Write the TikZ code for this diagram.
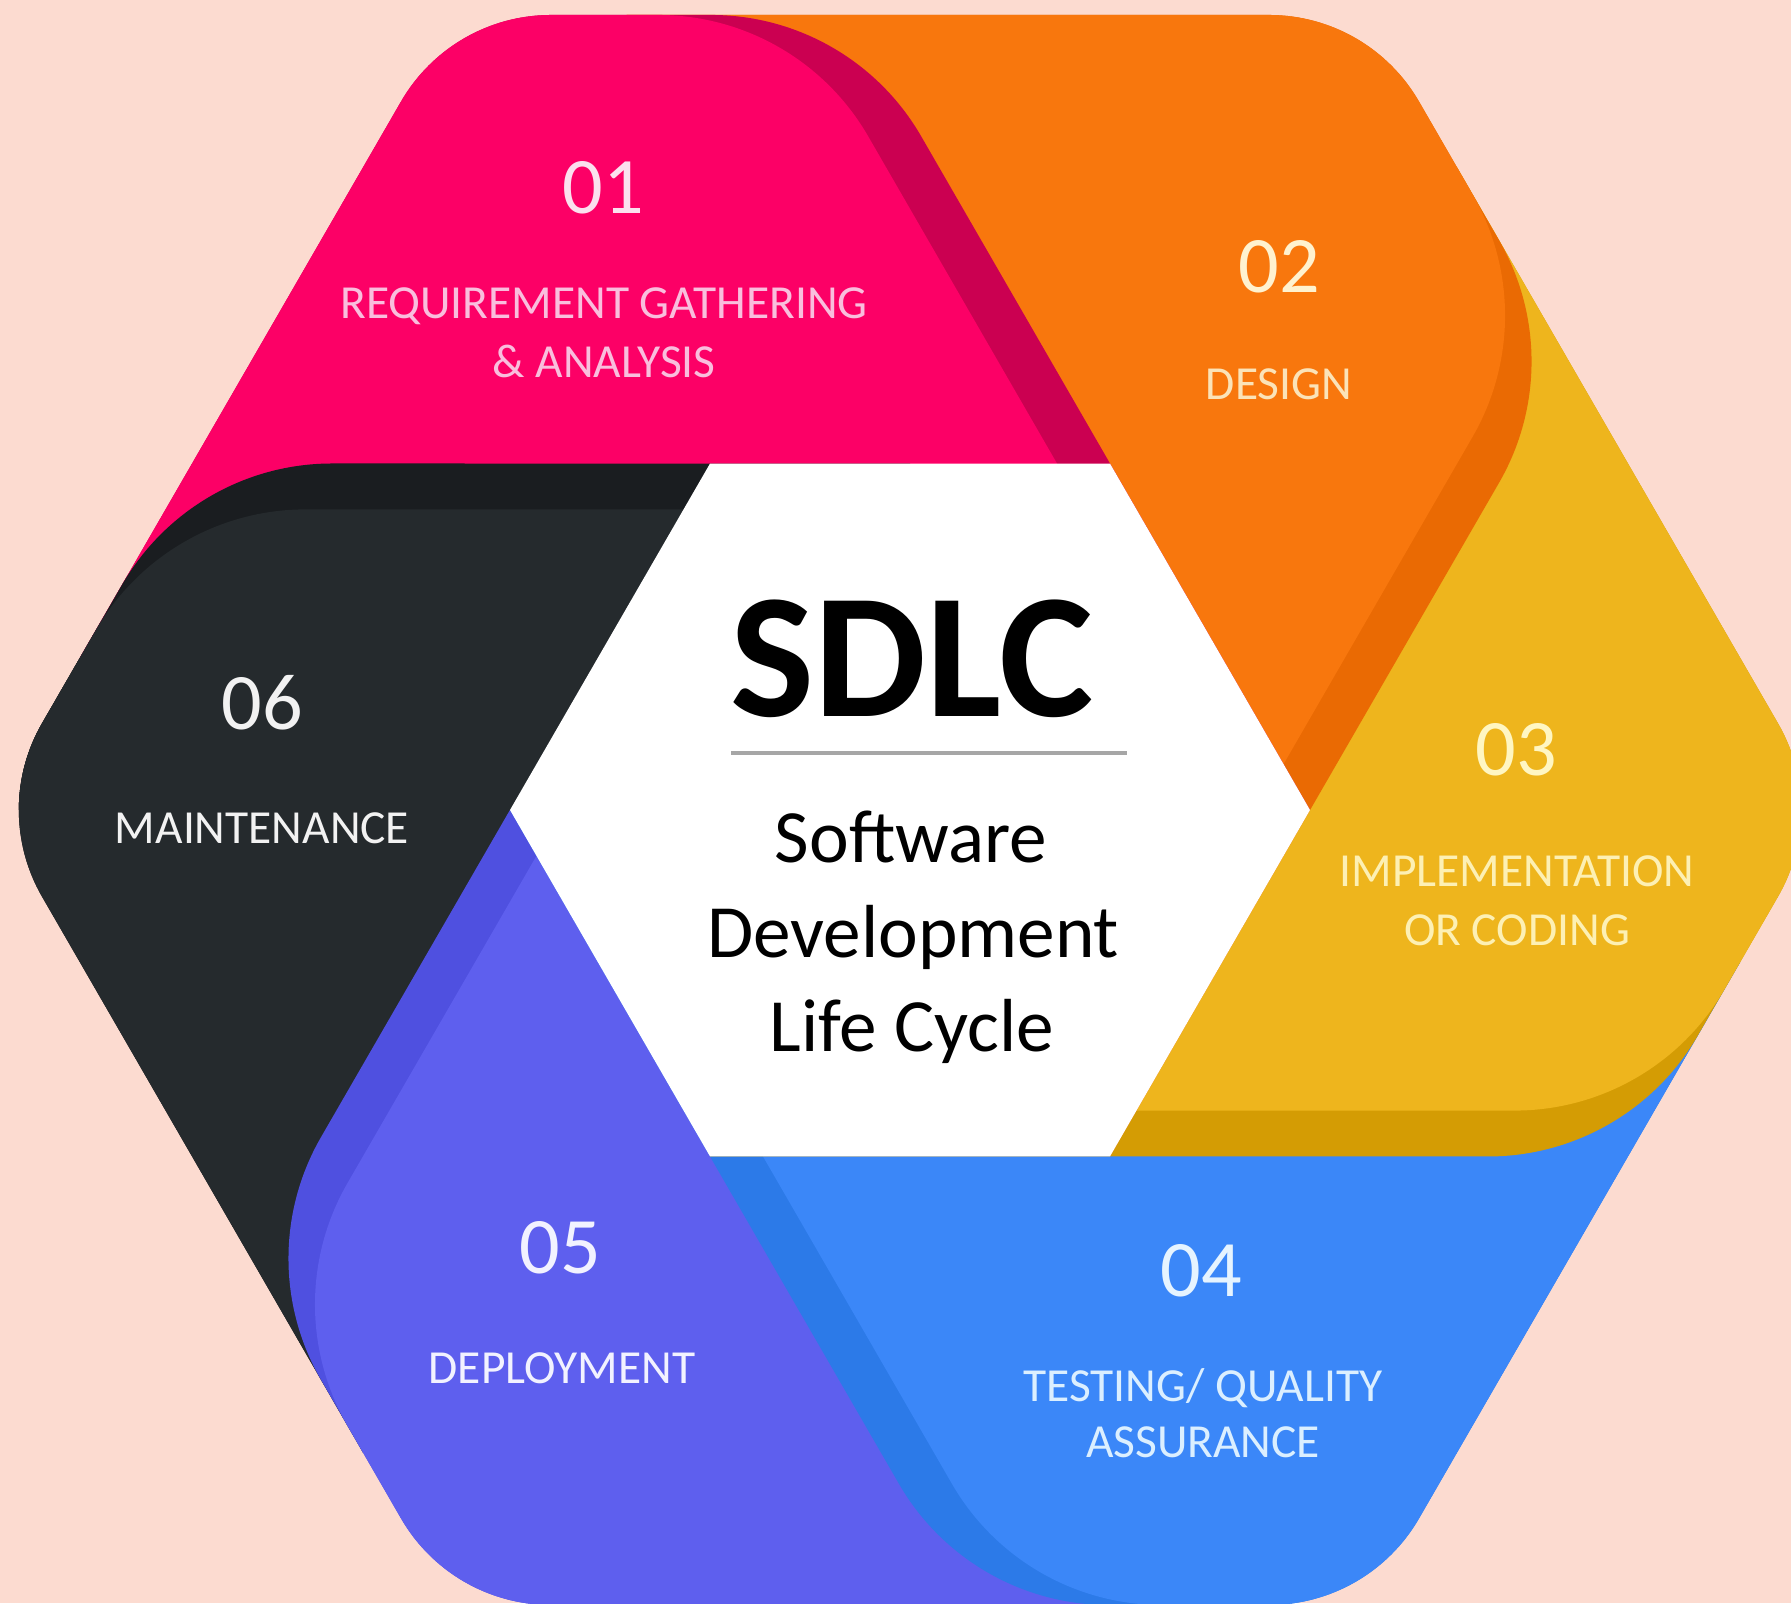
\documentclass[tikz,border=0pt]{standalone}
\usepackage{fontspec}
\setmainfont{Carlito}
\definecolor{bgc}{HTML}{FCDBD0}
\definecolor{pinkM}{HTML}{FC0066}
\definecolor{pinkD}{HTML}{CB0051}
\definecolor{orangeM}{HTML}{F8770D}
\definecolor{orangeD}{HTML}{EA6A03}
\definecolor{yellowM}{HTML}{EEB51D}
\definecolor{yellowD}{HTML}{D49C04}
\definecolor{blueM}{HTML}{3B87F8}
\definecolor{blueD}{HTML}{2C7AE8}
\definecolor{purpleM}{HTML}{5E5FEE}
\definecolor{purpleD}{HTML}{4F50E0}
\definecolor{blackM}{HTML}{252A2D}
\definecolor{blackD}{HTML}{1A1D20}
\definecolor{tPinkN}{HTML}{FBE0EE}
\definecolor{tPink}{HTML}{F9BEDD}
\definecolor{tOrangeN}{HTML}{FFF2CF}
\definecolor{tOrange}{HTML}{FBE3B8}
\definecolor{tYellowN}{HTML}{FFF6C2}
\definecolor{tYellow}{HTML}{FDF0B4}
\definecolor{tBlueN}{HTML}{E6F4FF}
\definecolor{tBlue}{HTML}{DBEFFF}
\definecolor{tPurple}{HTML}{F2F2FF}
\definecolor{tBlack}{HTML}{F2F2F2}
\definecolor{ruleGray}{HTML}{A6A6A6}
% one segment of the pinwheel, drawn in the frame of the top (pink) segment
\newcommand\sdlcseg[3]{%
  \begin{scope}[rotate=#1]
    \fill[#2] (4,0) -- (0.111,6.7376) arc[start angle=30,end angle=90,radius=2.4249]
      -- (-3.59,7.95) arc[start angle=90,end angle=150,radius=1.7321]
      -- (-8.302,1.52) -- cycle;
    \fill[#3] (3.47,0) -- (-0.419,6.7376) arc[start angle=30,end angle=90,radius=2.4249]
      -- (-3.59,7.95) arc[start angle=90,end angle=150,radius=1.7321]
      -- (-8.302,1.52) -- cycle;
  \end{scope}}
\begin{document}
\begin{tikzpicture}[
  num/.style={anchor=base, inner sep=0pt, font=\fontsize{22.8pt}{24pt}\selectfont},
  lab/.style={anchor=base, inner sep=0pt, font=\fontsize{13.5pt}{15pt}\selectfont},
  subt/.style={anchor=base, inner sep=0pt, text=black, font=\fontsize{21.4pt}{24pt}\selectfont},
  titl/.style={anchor=base, inner sep=0pt, text=black, font=\fontsize{50.6pt}{54pt}\selectfont\bfseries}]
\useasboundingbox (0,0) rectangle (17.91,16.03);
\clip (0,0) rectangle (17.91,16.03);
\fill[bgc] (0,0) rectangle (17.91,16.03);
\begin{scope}[shift={(9.10,7.93)}]
  \sdlcseg{60}{blackD}{blackM}
  \sdlcseg{120}{purpleD}{purpleM}
  \sdlcseg{180}{blueD}{blueM}
  \sdlcseg{-120}{yellowD}{yellowM}
  \sdlcseg{-60}{orangeD}{orangeM}
  \sdlcseg{0}{pinkD}{pinkM}
  \begin{scope}
    \clip (-10,0) rectangle (0,10);
    \sdlcseg{60}{blackD}{blackM}
  \end{scope}
  \fill[white] (4,0) -- (2,3.464) -- (-2,3.464) -- (-4,0) -- (-2,-3.464) -- (2,-3.464) -- cycle;
\end{scope}
% centre
\node[titl] (title) at (9.12,8.86) {SDLC};
\coordinate (ruleL) at (7.31,8.50);
\coordinate (ruleR) at (11.27,8.50);
\draw[ruleGray, line width=0.04cm] (ruleL) -- (ruleR);
\node[subt] (sub1) at (9.11,7.40) {Software};
\node[subt] (sub2) at (9.13,6.45) {Development};
\node[subt] (sub3) at (9.12,5.51) {Life Cycle};
% 01
\node[num, text=tPinkN] (n01) at (6.03,13.89) {01};
\node[lab, text=tPink] (l01a) at (6.04,12.84) {REQUIREMENT GATHERING};
\node[lab, text=tPink] (l01b) at (6.04,12.25) {\&~ANALYSIS};
% 02
\node[num, text=tOrangeN] (n02) at (12.79,13.10) {02};
\node[lab, text=tOrange] (l02) at (12.79,12.03) {DESIGN};
% 03
\node[num, text=tYellowN] (n03) at (15.16,8.27) {03};
\node[lab, text=tYellow] (l03a) at (15.17,7.16) {IMPLEMENTATION};
\node[lab, text=tYellow] (l03b) at (15.17,6.57) {OR CODING};
% 04
\node[num, text=tBlueN] (n04) at (12.01,3.06) {04};
\node[lab, text=tBlue] (l04a) at (12.03,2.01) {TESTING/ QUALITY};
\node[lab, text=tBlue] (l04b) at (12.03,1.45) {ASSURANCE};
% 05
\node[num, text=tPurple] (n05) at (5.60,3.29) {05};
\node[lab, text=tPurple] (l05) at (5.62,2.19) {DEPLOYMENT};
% 06
\node[num, text=tBlack] (n06) at (2.62,8.73) {06};
\node[lab, text=tBlack] (l06) at (2.62,7.59) {MAINTENANCE};
\end{tikzpicture}
\end{document}
